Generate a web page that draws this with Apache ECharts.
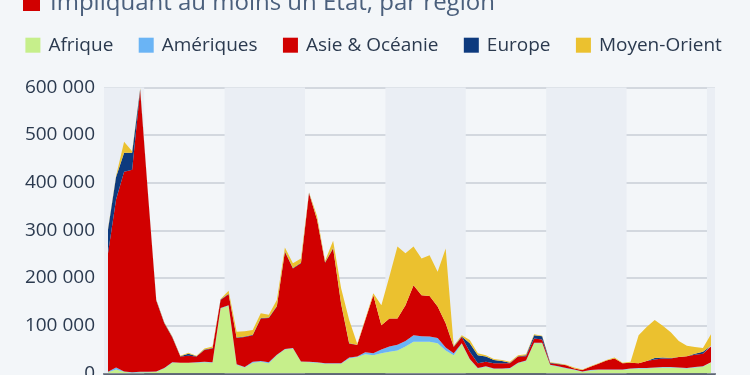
<!DOCTYPE html>
<html>
<head>
<meta charset="utf-8">
<script src="https://cdn.jsdelivr.net/npm/echarts@6/dist/echarts.min.js"></script>
<style>
html,body{margin:0;padding:0;background:#f3f6f9;}
#c{width:750px;height:375px;}
</style>
</head>
<body>
<div id="c"></div>
<script>
const years = [];
for (let y = 1946; y <= 2021; y++) years.push(String(y));

const seriesNames = ['Afrique', 'Amériques', 'Asie & Océanie', 'Europe', 'Moyen-Orient'];
const colors = ['#c6ef8b', '#6ab4f5', '#d10000', '#0d3a7e', '#ebc12f'];

// battle-related deaths, by region (1946–2021)
const afrique = [2000,8000,3000,1000,2000,2000,3000,10000,22000,22000,22000,22000,23000,22000,136000,142000,18000,12000,22000,24000,21000,38000,50000,52000,24000,23000,22000,20000,20000,20000,31000,34000,40000,38000,42000,45000,48000,56000,66000,66000,66000,63000,48000,38000,62000,29000,10000,14000,9000,9000,10000,21000,26000,63000,63000,17000,14000,10000,7000,3000,6000,7000,7000,7000,7000,9000,10000,10000,11000,12000,12000,11000,10000,12000,14000,22000];
const ameriques = [1000,4000,1000,1000,1000,1000,1000,1000,1000,0,0,1000,1000,1000,1000,1000,1000,1000,2000,2000,2000,1000,1000,1000,1000,1000,1000,1000,1000,1000,2000,1000,4000,4000,8000,11000,12000,12000,14000,12000,11000,11000,6000,4000,1000,1000,1000,1000,1000,1000,1000,1000,1000,1000,1000,1000,1000,1000,1000,1000,1000,1000,1000,1000,1000,1000,1000,1000,1000,1000,1000,1000,1000,1000,1000,1000];
const asieOceanie = [249000,353000,419000,425000,591000,367000,149000,94000,52000,13000,15000,12000,25000,29000,17000,23000,55000,63000,56000,89000,93000,101000,204000,167000,206000,354000,299000,211000,241000,124000,29000,25000,68000,122000,51000,59000,55000,75000,105000,86000,85000,66000,51000,13000,13000,15000,10000,9000,11000,11000,10000,13000,9000,9000,7000,3000,4000,6000,2000,3000,7000,12000,19000,23000,13000,12000,10000,15000,17000,18000,18000,22000,25000,26000,26000,33000];
const europe = [50000,47000,40000,36000,2000,1000,1000,1000,1000,1000,4000,1000,1000,1000,1000,1000,1000,1000,1000,1000,1000,1000,1000,1000,1000,1000,1000,1000,1000,1000,1000,0,0,0,0,0,0,0,0,0,0,0,0,1000,1000,18000,17000,11000,7000,5000,1000,1000,2000,7000,7000,1000,1000,0,0,0,0,0,0,0,0,0,0,0,3000,2000,1000,0,0,2000,4000,2000];
const moyenOrient = [2000,2000,23000,3000,2000,1000,1000,1000,1000,1000,2000,1000,2000,3000,1000,6000,12000,11000,10000,10000,6000,13000,8000,10000,9000,1000,7000,3000,15000,32000,49000,2000,2000,4000,42000,88000,151000,109000,81000,77000,86000,73000,157000,2000,3000,7000,4000,3000,2000,2000,2000,2000,2000,2000,1000,1000,1000,1000,2000,1000,1000,1000,1000,2000,1000,2000,59000,71000,80000,67000,54000,34000,22000,14000,8000,24000];
const seriesValues = [afrique, ameriques, asieOceanie, europe, moyenOrient];

const yTicks = [0, 100000, 200000, 300000, 400000, 500000, 600000];
// shaded decade bands (first year, last year)
const bands = [[1946, 1950], [1961, 1970], [1981, 1990], [2001, 2010], [2021, 2021]];

const titleText = 'Impliquant au moins un État, par région';
const FONT = '"Open Sans", sans-serif';

const chart = echarts.init(document.getElementById('c'), null, {renderer: 'canvas'});

const areaSeries = seriesNames.map((name, i) => ({
  name: name,
  type: 'line',
  stack: 'total',
  data: seriesValues[i],
  symbol: 'none',
  showSymbol: false,
  smooth: false,
  lineStyle: {width: 0, color: colors[i]},
  itemStyle: {color: colors[i]},
  areaStyle: {color: colors[i], opacity: 1},
  z: 3,
  animation: false
}));

const option = {
  animation: false,
  backgroundColor: '#f3f6f9',
  textStyle: {fontFamily: FONT},
  grid: {left: 104, right: 35, top: 87.4, bottom: 1.7, containLabel: false, outerBoundsMode: 'none'},
  legend: {
    data: seriesNames,
    left: 25.4,
    top: 35.7,
    padding: 0,
    itemWidth: 15,
    itemHeight: 15,
    itemGap: 25.4,
    icon: 'rect',
    selectedMode: false,
    textStyle: {fontFamily: FONT, fontSize: 19, color: '#2b3a4f', padding: [0, 0, 0, 3]}
  },
  xAxis: [{
    type: 'category',
    data: years,
    boundaryGap: true,
    axisLine: {show: true, lineStyle: {color: '#5d6675', width: 2}},
    axisTick: {show: false},
    axisLabel: {show: false},
    splitLine: {show: false}
  }, {
    type: 'value',
    min: 1945.5,
    max: 2021.5,
    show: false,
    splitLine: {show: false}
  }],
  yAxis: {
    type: 'value',
    min: 0,
    max: 600000,
    interval: 100000,
    axisLine: {show: false},
    axisTick: {show: false},
    splitLine: {show: true, lineStyle: {color: '#c9ced6', width: 1.5}},
    axisLabel: {
      fontFamily: FONT,
      fontSize: 19,
      color: '#2b3a4f',
      margin: 9,
      formatter: function (v) { return v === 0 ? '0' : (v / 1000) + ' 000'; }
    }
  },
  graphic: [
    {type: 'rect', left: 23, top: -6, shape: {width: 17, height: 17}, style: {fill: '#d10000'}},
    {type: 'text', x: 50, y: 3.5, style: {text: titleText, fontFamily: FONT, fontSize: 24, fill: '#4a5f7c', verticalAlign: 'middle', align: 'left'}}
  ],
  series: [{
    type: 'line',
    xAxisIndex: 1,
    data: [],
    silent: true,
    z: 1,
    markArea: {
      silent: true,
      itemStyle: {color: '#eaeef4'},
      data: bands.map(b => [{xAxis: b[0] - 0.5}, {xAxis: b[1] + 0.5}])
    }
  }].concat(areaSeries)
};
chart.setOption(option);
</script>
</body>
</html>
